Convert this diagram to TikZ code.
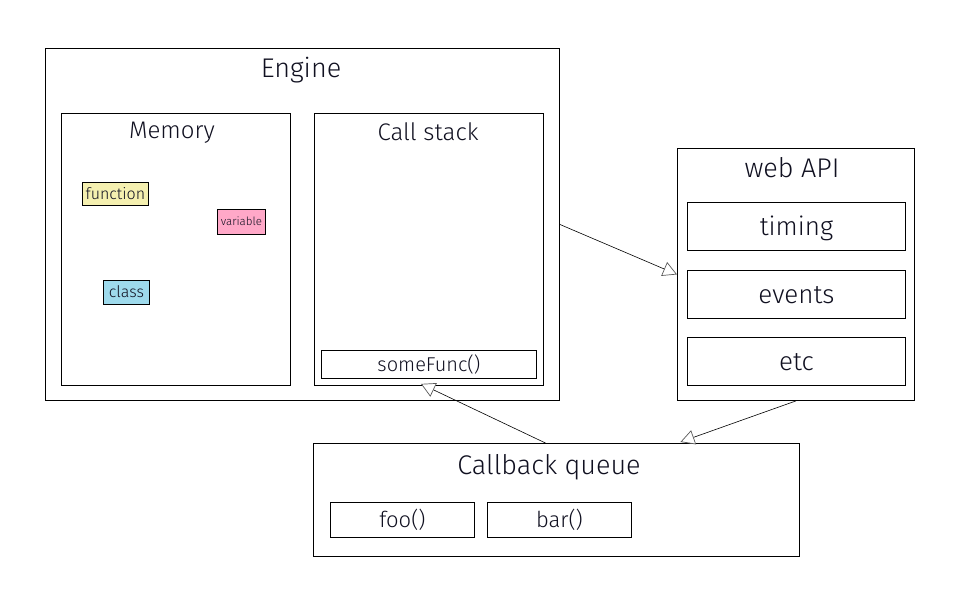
\documentclass[tikz,border=0pt]{standalone}
\usepackage{fontspec}
\setmainfont{Fira Sans}[UprightFont={* Light}]
\usetikzlibrary{arrows.meta}
\definecolor{fnyellow}{HTML}{F5F0B0}
\definecolor{varpink}{HTML}{FFA8C8}
\definecolor{clsblue}{HTML}{9EDAEC}
\definecolor{txt}{HTML}{101020}
\tikzset{
  box/.style={draw=black, line width=0.9pt, fill=white, anchor=north west, text=txt,
    text depth=0pt, inner sep=0pt},
  ttl/.style={font=\fontsize{#1}{#1}\selectfont, text=txt, inner sep=0pt, anchor=base},
  fs/.style 2 args={font=\fontsize{#1}{#1}\selectfont, text height=#2},
  tag/.style={draw=black, line width=0.8pt, inner sep=0pt, anchor=north west,
    text=txt, text depth=0pt},
  conn/.style={line width=0.6pt, -{Triangle[open, length=14pt, width=15pt, line width=0.7pt, color=gray!70!black, fill=white]}},
}
\begin{document}
\begin{tikzpicture}[x=1pt,y=-1pt]
\useasboundingbox (0,0) rectangle (968,596);
% engine
\node[box, minimum width=514, minimum height=352] (engine) at (45,48) {};
\node[ttl=27] (enginet) at (301,78) {Engine};
\node[box, minimum width=229, minimum height=272] (memory) at (61,113) {};
\node[ttl=24] (memoryt) at (172,139) {Memory};
\node[box, minimum width=229, minimum height=272] (stack) at (314,113) {};
\node[ttl=24] (stackt) at (428,141) {Call stack};
\node[box, fs={20}{13.8pt}, minimum width=215, minimum height=28] (somefunc) at (321,350) {someFunc()};
% memory tags
\node[tag, fs={16}{11pt}, fill=fnyellow, minimum width=66, minimum height=23] (fn) at (82,182) {function};
\node[tag, fs={11.5}{7.9pt}, fill=varpink, minimum width=48, minimum height=25] (var) at (217,209) {variable};
\node[tag, fs={16}{11pt}, fill=clsblue, minimum width=46, minimum height=24] (cls) at (103,280) {class};
% web api
\node[box, minimum width=237, minimum height=252] (webapi) at (677,148) {};
\node[ttl=27] (webapit) at (792,178) {web API};
\node[box, fs={26}{17.9pt}, minimum width=218, minimum height=48] (timing) at (687,202) {timing};
\node[box, fs={26}{17.9pt}, minimum width=218, minimum height=48] (events) at (687,270) {events};
\node[box, fs={26}{17.9pt}, minimum width=218, minimum height=48] (etc) at (687,337) {etc};
% callback queue
\node[box, minimum width=486, minimum height=113] (queue) at (313,443) {};
\node[ttl=27] (queuet) at (549,474) {Callback queue};
\node[box, fs={22}{15.2pt}, minimum width=144, minimum height=35] (foo) at (330,502) {foo()};
\node[box, fs={22}{15.2pt}, minimum width=144, minimum height=35] (bar) at (487,502) {bar()};
% connectors
\draw[conn] (engine.east) -- (webapi.west);
\draw[conn] ([xshift=-11pt]queue.north) -- ([xshift=-8pt,yshift=-5pt]somefunc.south);
\draw[conn] (webapi.south) -- ([xshift=124pt,yshift=1pt]queue.north);
\end{tikzpicture}
\end{document}
